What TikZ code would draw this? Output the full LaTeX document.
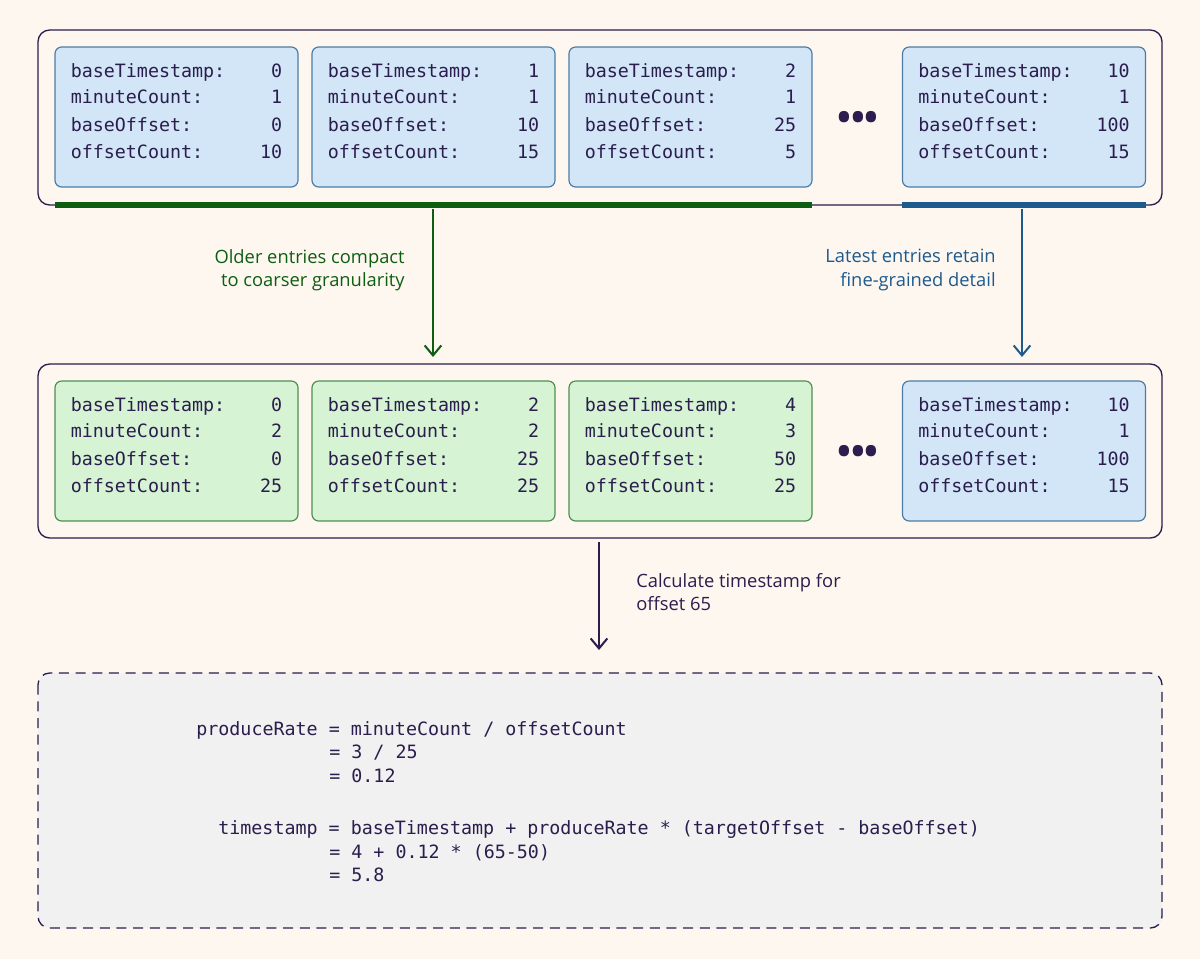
\documentclass[tikz,border=0pt]{standalone}
\usepackage{fontspec}
\setmainfont{Open Sans}
\setmonofont{DejaVu Sans Mono}
\usetikzlibrary{arrows.meta}
\definecolor{bgcream}{HTML}{FDF7F0}
\definecolor{ink}{HTML}{2B1D4D}
\definecolor{bluefill}{HTML}{D2E6F7}
\definecolor{blueedge}{HTML}{4C7BA6}
\definecolor{greenfill}{HTML}{D6F4D4}
\definecolor{greenedge}{HTML}{4F8E4F}
\definecolor{oldgreen}{HTML}{0E5E12}
\definecolor{newblue}{HTML}{1D5A8E}
\definecolor{codegrey}{HTML}{F1F1F1}
\tikzset{
  panel/.style={draw=ink, line width=0.8pt, rounded corners=7pt},
  card/.style={rectangle, rounded corners=4pt, line width=0.7pt, minimum width=145.8pt, minimum height=84pt, inner sep=0pt},
  bluecard/.style={card, draw=blueedge, fill=bluefill},
  greencard/.style={card, draw=greenedge, fill=greenfill},
  field/.style={font=\ttfamily\fontsize{11}{13}\selectfont, text=ink, inner sep=0pt},
  note/.style={font=\fontsize{11}{14}\selectfont, align=right, inner sep=0pt},
  flow/.style={-{Straight Barb[length=6pt,width=10pt]}, line width=1.2pt},
}
% one card: name, centre x, centre y, style, four values
\newcommand{\entrycard}[8]{%
  \node[#4] (#1) at (#2,#3) {};
  \node[field, anchor=base west] at ([xshift=9.6pt,yshift=24pt]#1.west) {baseTimestamp:};
  \node[field, anchor=base west] at ([xshift=9.6pt,yshift=8pt]#1.west) {minuteCount:};
  \node[field, anchor=base west] at ([xshift=9.6pt,yshift=-8.4pt]#1.west) {baseOffset:};
  \node[field, anchor=base west] at ([xshift=9.6pt,yshift=-25pt]#1.west) {offsetCount:};
  \node[field, anchor=base east] at ([xshift=-9.6pt,yshift=24pt]#1.east) {#5};
  \node[field, anchor=base east] at ([xshift=-9.6pt,yshift=8pt]#1.east) {#6};
  \node[field, anchor=base east] at ([xshift=-9.6pt,yshift=-8.4pt]#1.east) {#7};
  \node[field, anchor=base east] at ([xshift=-9.6pt,yshift=-25pt]#1.east) {#8};
}
\begin{document}
\begin{tikzpicture}[x=0.6pt,y=-0.6pt]
\fill[bgcream] (0,0) rectangle (1200,959);
\useasboundingbox (0,0) rectangle (1200,959);

%top panel
\draw[panel] (38,30) rectangle (1162,205);
\entrycard{a1}{176.5}{117}{bluecard}{0}{1}{0}{10}
\entrycard{a2}{433.5}{117}{bluecard}{1}{1}{10}{15}
\entrycard{a3}{690.5}{117}{bluecard}{2}{1}{25}{5}
\entrycard{a4}{1024}{117}{bluecard}{10}{1}{100}{15}
\node[text=ink] (dotsa) at (858,121) {\fontsize{22}{22}\selectfont\textbf{•••}};

%retention bars
\draw[oldgreen, line width=3.5pt] (55,205) -- (812,205);
\draw[newblue, line width=3.5pt] (902,205) -- (1146,205);
\coordinate (oldtop) at (433,209);
\coordinate (newtop) at (1022,209);

%bottom panel
\draw[panel] (38,364) rectangle (1162,538);
\entrycard{b1}{176.5}{451}{greencard}{0}{2}{0}{25}
\entrycard{b2}{433.5}{451}{greencard}{2}{2}{25}{25}
\entrycard{b3}{690.5}{451}{greencard}{4}{3}{50}{25}
\entrycard{b4}{1024}{451}{bluecard}{10}{1}{100}{15}
\node[text=ink] (dotsb) at (858,455) {\fontsize{22}{22}\selectfont\textbf{•••}};
\coordinate (oldbot) at (433,357);
\coordinate (newbot) at (1022,357);

\draw[flow, oldgreen] (oldtop) -- (oldbot);
\draw[flow, newblue] (newtop) -- (newbot);
\node[note, text=oldgreen, anchor=east] (oldnote) at (405,270) {Older entries compact\\to coarser granularity};
\node[note, text=newblue, anchor=east] (newnote) at (996,270) {Latest entries retain\\fine-grained detail};

%lookup
\coordinate (calctop) at (599,542);
\coordinate (calcbot) at (599,650);
\draw[flow, ink] (calctop) -- (calcbot);
\node[note, text=ink, align=left, anchor=west] (calcnote) at (636,592) {Calculate timestamp for\\offset 65};

%worked example
\draw[ink, line width=0.8pt, dash pattern=on 6pt off 4pt, fill=codegrey, rounded corners=7pt] (38,673) rectangle (1162,928);
\node[field, anchor=base west] at (196,735) {produceRate = minuteCount / offsetCount};
\node[field, anchor=base west] at (329,758) {= 3 / 25};
\node[field, anchor=base west] at (329,782) {= 0.12};
\node[field, anchor=base west] at (218,834) {timestamp = baseTimestamp + produceRate * (targetOffset - baseOffset)};
\node[field, anchor=base west] at (329,858) {= 4 + 0.12 * (65-50)};
\node[field, anchor=base west] at (329,881) {= 5.8};
\end{tikzpicture}
\end{document}
